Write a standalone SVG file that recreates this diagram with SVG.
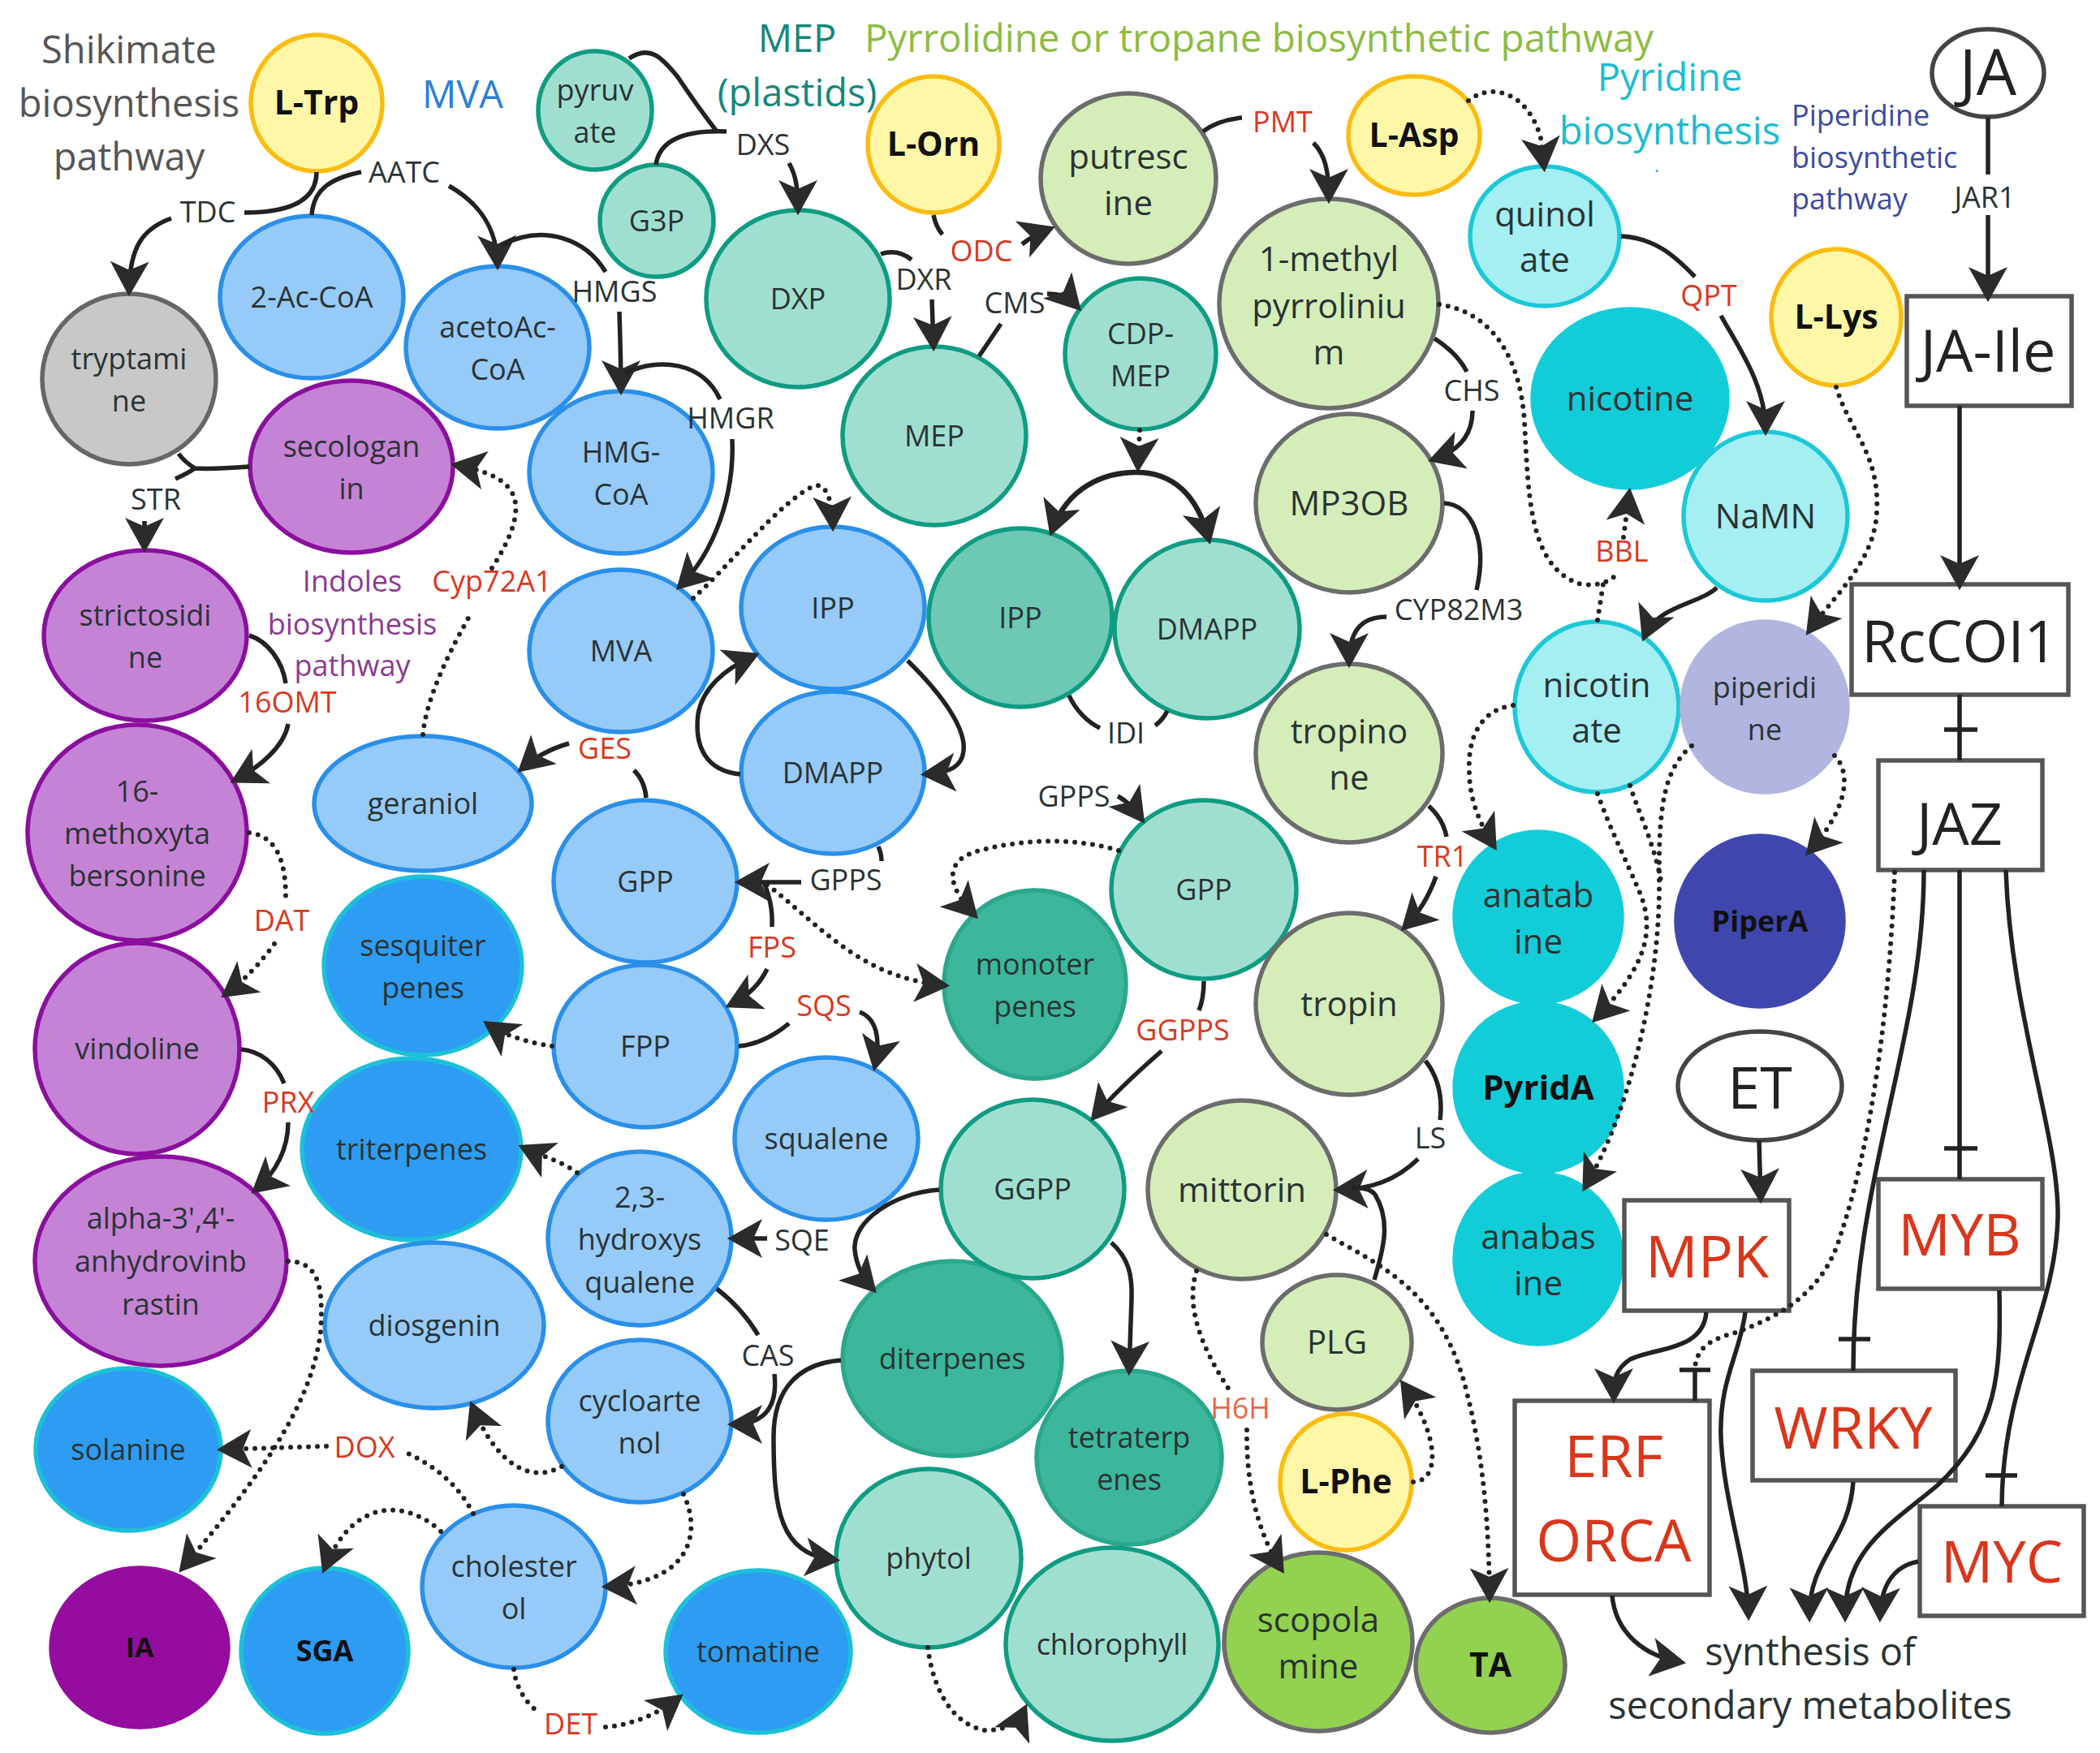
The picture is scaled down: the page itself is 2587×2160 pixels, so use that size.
<svg xmlns="http://www.w3.org/2000/svg" width="2587" height="2160" viewBox="0 0 2587 2160">
<style>
text{font-family:"Open Sans","DejaVu Sans",sans-serif;text-anchor:middle;fill:#2a3333;font-size:36px}
.L{font-size:42px}.B{font-weight:700;fill:#111;font-size:41px}
.e{font-size:36px}.r{fill:#d9381e}
.h{font-size:47px}.big{font-size:72px;fill:#222}.bigr{font-size:72px;fill:#d9361b}
ellipse,rect{stroke-width:5.5}
.blue{fill:#96caf8;stroke:#2a8fe8}.dblue{fill:#2e9cf3;stroke:#1cc0d8}
.pur{fill:#c583d6;stroke:#8a0f9e}.dpur{fill:#940d9e;stroke:#940d9e}
.gray{fill:#c8c8c8;stroke:#666}
.teal{fill:#a0dfd0;stroke:#0f9c82}.dteal{fill:#3cb79c;stroke:#2aa78d}.mteal{fill:#6dc9b3;stroke:#0f9c82}
.grn{fill:#d5edb9;stroke:#6c6c6c}.dgrn{fill:#93d150;stroke:#6c6c6c}
.cy{fill:#a5eef2;stroke:#1cc8d8}.dcy{fill:#12cdd8;stroke:#12cdd8}
.yel{fill:#fff7a8;stroke:#fbbc10}
.pip{fill:#b1b5df;stroke:#b1b5df}.dpip{fill:#3f47ae;stroke:#3f47ae}
.w{fill:#fff;stroke:#444}.box{fill:#fff;stroke:#555}
#connectors path{fill:none;stroke:#222;stroke-width:5.5}
#connectors path.a{marker-end:url(#arr)}
#connectors path.d{stroke-dasharray:0 11;stroke-linecap:round;stroke-width:6}
</style>
<defs>
<marker id="arr" markerUnits="userSpaceOnUse" markerWidth="44" markerHeight="48" viewBox="0 0 36 40" refX="30" refY="20" orient="auto"><path d="M36 20L0 0L9 20L0 40Z" fill="#2b2b2b"/></marker>
</defs>
<rect width="2587" height="2160" fill="#fff"/>

<g id="titles">
<text class="h" x="159" y="78" style="fill:#555">Shikimate</text>
<text class="h" x="159" y="144" style="fill:#555">biosynthesis</text>
<text class="h" x="159" y="210" style="fill:#555">pathway</text>
<text class="h" x="570" y="133" style="fill:#2b7fd6">MVA</text>
<text class="h" x="982" y="64" style="fill:#14877a">MEP</text>
<text class="h" x="982" y="131" style="fill:#14877a">(plastids)</text>
<text class="h" x="1551" y="64" style="fill:#8dbb45;font-size:47.5px">Pyrrolidine or tropane biosynthetic pathway</text>
<text class="h" x="2057" y="112" style="fill:#1cbcd2">Pyridine</text>
<text class="h" x="2057" y="178" style="fill:#1cbcd2">biosynthesis</text>
<text x="2041" y="212" style="fill:#1cbcd2;font-size:24px">.</text>
<text x="2207" y="155" style="fill:#3b4aa0;text-anchor:start">Piperidine</text>
<text x="2207" y="207" style="fill:#3b4aa0;text-anchor:start">biosynthetic</text>
<text x="2207" y="258" style="fill:#3b4aa0;text-anchor:start">pathway</text>
<text x="434" y="729" style="fill:#8b3a8f">Indoles</text>
<text x="434" y="782" style="fill:#8b3a8f">biosynthesis</text>
<text x="434" y="833" style="fill:#8b3a8f">pathway</text>
<text class="h" x="2230" y="2052">synthesis of</text>
<text class="h" x="2230" y="2118">secondary metabolites</text>
</g>

<g id="n-LTrp"><ellipse class="yel" cx="390" cy="127" rx="81" ry="84"/><text class="B" x="390" y="141">L-Trp</text></g>
<g id="n-2AcCoA"><ellipse class="blue" cx="384" cy="366" rx="113" ry="100"/><text x="384" y="379">2-Ac-CoA</text></g>
<g id="n-acetoAcCoA"><ellipse class="blue" cx="613" cy="428" rx="113" ry="100"/><text x="613" y="416">acetoAc-</text><text x="613" y="468">CoA</text></g>
<g id="n-tryptamine"><ellipse class="gray" cx="159" cy="467" rx="107" ry="105"/><text x="159" y="455">tryptami</text><text x="159" y="507">ne</text></g>
<g id="n-secologanin"><ellipse class="pur" cx="433" cy="575" rx="125" ry="106"/><text x="433" y="563">secologan</text><text x="433" y="615">in</text></g>
<g id="n-HMGCoA"><ellipse class="blue" cx="765" cy="582" rx="113" ry="100"/><text x="765" y="570">HMG-</text><text x="765" y="622">CoA</text></g>
<g id="n-pyruvate"><ellipse class="teal" cx="733" cy="136" rx="70" ry="73"/><text x="733" y="124">pyruv</text><text x="733" y="176">ate</text></g>
<g id="n-G3P"><ellipse class="teal" cx="809" cy="272" rx="70" ry="69"/><text x="809" y="285">G3P</text></g>
<g id="n-DXP"><ellipse class="teal" cx="983" cy="368" rx="113" ry="109"/><text x="983" y="381">DXP</text></g>
<g id="n-LOrn"><ellipse class="yel" cx="1150" cy="178" rx="81" ry="84"/><text class="B" x="1150" y="192">L-Orn</text></g>
<g id="n-MEP"><ellipse class="teal" cx="1151" cy="537" rx="113" ry="110"/><text x="1151" y="550">MEP</text></g>
<g id="n-strictosidine"><ellipse class="pur" cx="179" cy="783" rx="125" ry="105"/><text x="179" y="771">strictosidi</text><text x="179" y="823">ne</text></g>
<g id="n-MVA"><ellipse class="blue" cx="765" cy="802" rx="113" ry="100"/><text x="765" y="815">MVA</text></g>
<g id="n-IPP-b"><ellipse class="blue" cx="1026" cy="749" rx="113" ry="100"/><text x="1026" y="762">IPP</text></g>
<g id="n-DMAPP-b"><ellipse class="blue" cx="1026" cy="952" rx="113" ry="100"/><text x="1026" y="965">DMAPP</text></g>
<g id="n-geraniol"><ellipse class="blue" cx="521" cy="990" rx="134" ry="83"/><text x="521" y="1003">geraniol</text></g>
<g id="n-16methoxy"><ellipse class="pur" cx="169" cy="1026" rx="135" ry="133"/><text x="169" y="988">16-</text><text x="169" y="1040">methoxyta</text><text x="169" y="1092">bersonine</text></g>
<g id="n-vindoline"><ellipse class="pur" cx="169" cy="1292" rx="126" ry="130"/><text x="169" y="1305">vindoline</text></g>
<g id="n-alpha"><ellipse class="pur" cx="198" cy="1554" rx="155" ry="129"/><text x="198" y="1514">alpha-3',4'-</text><text x="198" y="1567">anhydrovinb</text><text x="198" y="1620">rastin</text></g>
<g id="n-sesquiterpenes"><ellipse class="dblue" cx="521" cy="1190" rx="122" ry="110"/><text x="521" y="1178">sesquiter</text><text x="521" y="1230">penes</text></g>
<g id="n-GPP-b"><ellipse class="blue" cx="795" cy="1086" rx="113" ry="100"/><text x="795" y="1099">GPP</text></g>
<g id="n-FPP"><ellipse class="blue" cx="795" cy="1289" rx="113" ry="100"/><text x="795" y="1302">FPP</text></g>
<g id="n-squalene"><ellipse class="blue" cx="1018" cy="1403" rx="113" ry="100"/><text x="1018" y="1416">squalene</text></g>
<g id="n-triterpenes"><ellipse class="dblue" cx="507" cy="1416" rx="135" ry="112"/><text x="507" y="1429">triterpenes</text></g>
<g id="n-hydroxysqualene"><ellipse class="blue" cx="788" cy="1526" rx="113" ry="107"/><text x="788" y="1488">2,3-</text><text x="788" y="1540">hydroxys</text><text x="788" y="1593">qualene</text></g>
<g id="n-diosgenin"><ellipse class="blue" cx="535" cy="1633" rx="135" ry="102"/><text x="535" y="1646">diosgenin</text></g>
<g id="n-cycloartenol"><ellipse class="blue" cx="788" cy="1751" rx="113" ry="100"/><text x="788" y="1739">cycloarte</text><text x="788" y="1791">nol</text></g>
<g id="n-solanine"><ellipse class="dblue" cx="158" cy="1786" rx="114" ry="100"/><text x="158" y="1799">solanine</text></g>
<g id="n-cholesterol"><ellipse class="blue" cx="633" cy="1955" rx="113" ry="100"/><text x="633" y="1943">cholester</text><text x="633" y="1995">ol</text></g>
<g id="n-IA"><ellipse class="dpur" cx="172" cy="2030" rx="109" ry="98"/><text class="B" x="172" y="2042" style="font-size:34px">IA</text></g>
<g id="n-SGA"><ellipse class="dblue" cx="400" cy="2034" rx="103" ry="102"/><text class="B" x="400" y="2047" style="font-size:36px">SGA</text></g>
<g id="n-tomatine"><ellipse class="dblue" cx="934" cy="2035" rx="114" ry="100"/><text x="934" y="2048">tomatine</text></g>
<g id="n-diterpenes"><ellipse class="dteal" cx="1173" cy="1674" rx="135" ry="120"/><text x="1173" y="1687">diterpenes</text></g>
<g id="n-phytol"><ellipse class="teal" cx="1144" cy="1920" rx="114" ry="110"/><text x="1144" y="1933">phytol</text></g>
<g id="n-GGPP"><ellipse class="teal" cx="1272" cy="1465" rx="113" ry="110"/><text x="1272" y="1478">GGPP</text></g>
<g id="n-monoterpenes"><ellipse class="dteal" cx="1275" cy="1213" rx="112" ry="116"/><text x="1275" y="1201">monoter</text><text x="1275" y="1253">penes</text></g>
<g id="n-putrescine"><ellipse class="grn" cx="1390" cy="220" rx="108" ry="105"/><text class="L" x="1390" y="208">putresc</text><text class="L" x="1390" y="265">ine</text></g>
<g id="n-CDPMEP"><ellipse class="teal" cx="1405" cy="436" rx="93" ry="93"/><text x="1405" y="424">CDP-</text><text x="1405" y="476">MEP</text></g>
<g id="n-methylpyrrolinium"><ellipse class="grn" cx="1637" cy="374" rx="135" ry="129"/><text class="L" x="1637" y="334">1-methyl</text><text class="L" x="1637" y="392">pyrroliniu</text><text class="L" x="1637" y="449">m</text></g>
<g id="n-LAsp"><ellipse class="yel" cx="1742" cy="167" rx="81" ry="73"/><text class="B" x="1742" y="181">L-Asp</text></g>
<g id="n-quinolate"><ellipse class="cy" cx="1903" cy="291" rx="92" ry="86"/><text class="L" x="1903" y="279">quinol</text><text class="L" x="1903" y="335">ate</text></g>
<g id="n-nicotine"><ellipse class="dcy" cx="2008" cy="491" rx="120" ry="110"/><text class="L" x="2008" y="506">nicotine</text></g>
<g id="n-MP3OB"><ellipse class="grn" cx="1662" cy="620" rx="115" ry="110"/><text class="L" x="1662" y="635">MP3OB</text></g>
<g id="n-NaMN"><ellipse class="cy" cx="2175" cy="636" rx="101" ry="104"/><text class="L" x="2175" y="651">NaMN</text></g>
<g id="n-LLys"><ellipse class="yel" cx="2262" cy="391" rx="80" ry="84"/><text class="B" x="2262" y="405">L-Lys</text></g>
<g id="n-IPP-t"><ellipse class="mteal" cx="1257" cy="761" rx="113" ry="110"/><text x="1257" y="774">IPP</text></g>
<g id="n-DMAPP-t"><ellipse class="teal" cx="1487" cy="775" rx="114" ry="110"/><text x="1487" y="788">DMAPP</text></g>
<g id="n-tropinone"><ellipse class="grn" cx="1662" cy="928" rx="115" ry="110"/><text class="L" x="1662" y="916">tropino</text><text class="L" x="1662" y="973">ne</text></g>
<g id="n-nicotinate"><ellipse class="cy" cx="1967" cy="871" rx="101" ry="105"/><text class="L" x="1967" y="859">nicotin</text><text class="L" x="1967" y="915">ate</text></g>
<g id="n-piperidine"><ellipse class="pip" cx="2174" cy="871" rx="102" ry="105"/><text x="2174" y="860">piperidi</text><text x="2174" y="912">ne</text></g>
<g id="n-GPP-t"><ellipse class="teal" cx="1483" cy="1096" rx="114" ry="110"/><text x="1483" y="1109">GPP</text></g>
<g id="n-anatabine"><ellipse class="dcy" cx="1895" cy="1130" rx="103" ry="105"/><text class="L" x="1895" y="1118">anatab</text><text class="L" x="1895" y="1175">ine</text></g>
<g id="n-PiperA"><ellipse class="dpip" cx="2168" cy="1135" rx="103" ry="105"/><text class="B" x="2168" y="1148" style="font-size:36px">PiperA</text></g>
<g id="n-tropin"><ellipse class="grn" cx="1662" cy="1237" rx="115" ry="112"/><text class="L" x="1662" y="1252">tropin</text></g>
<g id="n-PyridA"><ellipse class="dcy" cx="1895" cy="1340" rx="103" ry="104"/><text class="B" x="1895" y="1355" style="font-size:42px">PyridA</text></g>
<g id="n-mittorin"><ellipse class="grn" cx="1530" cy="1466" rx="116" ry="110"/><text class="L" x="1530" y="1481">mittorin</text></g>
<g id="n-anabasine"><ellipse class="dcy" cx="1895" cy="1551" rx="103" ry="105"/><text class="L" x="1895" y="1539">anabas</text><text class="L" x="1895" y="1596">ine</text></g>
<g id="n-PLG"><ellipse class="grn" cx="1647" cy="1654" rx="92" ry="83"/><text x="1647" y="1668" style="font-size:40px">PLG</text></g>
<g id="n-tetraterpenes"><ellipse class="dteal" cx="1391" cy="1796" rx="114" ry="107"/><text x="1391" y="1784">tetraterp</text><text x="1391" y="1836">enes</text></g>
<g id="n-LPhe"><ellipse class="yel" cx="1658" cy="1826" rx="81" ry="84"/><text class="B" x="1658" y="1840">L-Phe</text></g>
<g id="n-chlorophyll"><ellipse class="teal" cx="1370" cy="2026" rx="131" ry="119"/><text x="1370" y="2039">chlorophyll</text></g>
<g id="n-scopolamine"><ellipse class="dgrn" cx="1624" cy="2023" rx="116" ry="110"/><text class="L" x="1624" y="2011">scopola</text><text class="L" x="1624" y="2068">mine</text></g>
<g id="n-TA"><ellipse class="dgrn" cx="1836" cy="2052" rx="92" ry="83"/><text class="B" x="1836" y="2066">TA</text></g>
<g id="n-JA"><ellipse class="w" cx="2449" cy="90" rx="69" ry="54"/><text class="big" x="2449" y="117" style="font-size:78px">JA</text></g>
<g id="n-ET"><ellipse class="w" cx="2168" cy="1338" rx="101" ry="67"/><text class="big" x="2168" y="1366">ET</text></g>
<g id="n-JAIle"><rect class="box" x="2349" y="365" width="203" height="135"/><text class="big" x="2449" y="458">JA-Ile</text></g>
<g id="n-RcCOI1"><rect class="box" x="2281" y="720" width="267" height="136"/><text class="big" x="2414" y="816">RcCOI1</text></g>
<g id="n-JAZ"><rect class="box" x="2314" y="937" width="202" height="135"/><text class="big" x="2414" y="1041">JAZ</text></g>
<g id="n-MPK"><rect class="box" x="2001" y="1479" width="203" height="136"/><text class="bigr" x="2103" y="1574">MPK</text></g>
<g id="n-MYB"><rect class="box" x="2314" y="1453" width="202" height="135"/><text class="bigr" x="2414" y="1547">MYB</text></g>
<g id="n-ERFORCA"><rect class="box" x="1866" y="1726" width="240" height="239"/><text class="bigr" x="1988" y="1820">ERF</text><text class="bigr" x="1988" y="1924">ORCA</text></g>
<g id="n-WRKY"><rect class="box" x="2159" y="1689" width="250" height="135"/><text class="bigr" x="2283" y="1785">WRKY</text></g>
<g id="n-MYC"><rect class="box" x="2365" y="1856" width="202" height="135"/><text class="bigr" x="2466" y="1950">MYC</text></g>

<g id="connectors">
<path d="M390 212C390 245 360 262 301 262"/>
<path class="a" d="M211 269C175 282 160 305 159 358"/>
<path d="M384 265C386 235 405 220 445 212"/>
<path class="a" d="M553 229C590 250 612 280 613 326"/>
<path d="M746 335C722 295 670 275 618 302"/>
<path class="a" d="M763 384C764 420 765 450 765 480"/>
<path d="M887 492C865 445 810 440 770 460"/>
<path class="a" d="M902 541C905 610 880 680 838 722"/>
<path d="M775 72C800 55 815 70 835 95C855 125 870 145 883 162"/>
<path d="M808 203C812 175 840 160 895 162"/>
<path class="a" d="M972 201C980 215 983 230 983 258"/>
<path d="M1085 313C1100 308 1113 312 1123 320"/>
<path class="a" d="M1148 369L1150 426"/>
<path d="M1206 439L1233 399"/>
<path class="a" d="M1290 362C1305 362 1315 365 1327 378"/>
<path d="M1150 265C1152 275 1155 282 1161 289"/>
<path class="a" d="M1259 301C1270 292 1280 287 1293 282"/>
<path d="M1482 162C1495 152 1510 147 1530 145"/>
<path class="a" d="M1618 176C1632 190 1637 210 1637 244"/>
<path class="a d" d="M1809 124C1838 100 1883 115 1898 170L1902 205"/>
<path d="M1997 291C2038 293 2063 315 2088 341"/>
<path class="a" d="M2120 389C2143 430 2175 475 2175 530"/>
<path d="M1767 417C1784 428 1799 442 1807 458"/>
<path class="a" d="M1814 506C1814 535 1799 555 1766 566"/>
<path d="M1779 620C1813 622 1833 665 1819 727"/>
<path class="a" d="M1708 760C1679 760 1662 775 1662 816"/>
<path class="d" d="M1773 375C1838 385 1873 440 1878 520C1883 610 1883 700 1948 720C1968 722 1983 718 1993 706"/>
<path class="d" d="M1968 764L1976 713"/>
<path class="a d" d="M2000 662L2007 608"/>
<path class="a" d="M2115 724C2093 745 2043 745 2026 784"/>
<path class="a d" d="M2262 477C2278 530 2316 560 2312 630C2310 690 2263 730 2229 777"/>
<path d="M2449 145V215"/>
<path class="a" d="M2449 265V365"/>
<path class="a" d="M2414 500V720"/>
<path d="M2414 856V937M2395 899H2436"/>
<path class="a d" d="M1404 530L1402 575"/>
<path class="a" style="stroke-width:6.5" d="M1400 582C1360 582 1315 600 1296 654"/>
<path class="a" style="stroke-width:6.5" d="M1400 582C1445 582 1475 610 1489 664"/>
<path d="M1317 857C1325 875 1340 890 1355 897"/>
<path d="M1438 876C1434 884 1430 889 1423 894"/>
<path class="a" d="M1377 981C1390 988 1398 998 1406 1009"/>
<path d="M1760 993C1771 1003 1779 1015 1782 1031"/>
<path class="a" d="M1769 1080C1760 1105 1748 1125 1731 1142"/>
<path d="M1756 1307C1774 1330 1777 1355 1774 1380"/>
<path class="a" d="M1747 1428C1719 1455 1689 1465 1649 1466"/>
<path d="M1693 1577C1704 1540 1714 1505 1694 1472C1689 1465 1679 1463 1665 1464"/>
<path class="a d" d="M1741 1826C1774 1825 1774 1770 1729 1706"/>
<path class="a d" d="M1634 1521C1700 1560 1778 1590 1808 1720C1828 1800 1834 1880 1835 1968"/>
<path class="d" d="M1474 1566C1460 1610 1480 1660 1514 1712"/>
<path class="a d" d="M1536 1762C1535 1830 1550 1890 1578 1933"/>
<path d="M1483 1209C1483 1222 1481 1235 1477 1245"/>
<path class="a" d="M1431 1295C1400 1322 1370 1350 1348 1376"/>
<path class="a" d="M1369 1531C1390 1550 1395 1570 1394 1600L1391 1688"/>
<path class="a" d="M1157 1466C1100 1470 1050 1505 1053 1540C1055 1560 1063 1575 1075 1588"/>
<path class="a" d="M1036 1676C985 1680 953 1710 953 1770C953 1860 960 1915 1028 1922"/>
<path class="a d" d="M1143 2030C1150 2085 1175 2125 1213 2132C1238 2132 1253 2125 1262 2106"/>
<path d="M883 1588C905 1605 922 1625 934 1645"/>
<path class="a" d="M954 1693C958 1730 945 1755 903 1755"/>
<path class="a" d="M945 1526H903"/>
<path d="M910 1289C935 1287 955 1275 972 1261"/>
<path class="a" d="M1059 1247C1080 1255 1085 1280 1078 1313"/>
<path d="M941 1087C948 1105 952 1120 951 1142"/>
<path class="a" d="M945 1194C935 1215 920 1228 900 1238"/>
<path class="a" d="M987 1087H912"/>
<path d="M1082 1043C1085 1050 1086 1055 1086 1061"/>
<path class="a d" d="M945 1090C1010 1140 1060 1205 1163 1214"/>
<path class="a d" d="M680 1289C655 1285 625 1278 601 1262"/>
<path class="a d" d="M711 1445C690 1430 668 1425 645 1414"/>
<path class="a d" d="M692 1807C650 1830 610 1800 582 1733"/>
<path class="a d" d="M842 1841C865 1890 850 1950 748 1955"/>
<path class="d" d="M583 1865C565 1830 535 1805 498 1789"/>
<path class="a d" d="M402 1782L274 1786"/>
<path class="a d" d="M543 1887C510 1855 440 1835 400 1932"/>
<path class="d" d="M633 2057C635 2075 645 2095 659 2106"/>
<path class="a d" d="M746 2128C780 2125 810 2112 836 2092"/>
<path class="a d" d="M355 1554C395 1555 398 1590 395 1640C385 1730 320 1820 225 1932"/>
<path class="d" d="M307 1026C340 1030 352 1060 352 1105"/>
<path class="a d" d="M338 1163C322 1185 302 1207 278 1225"/>
<path d="M297 1293C320 1295 340 1310 350 1335"/>
<path class="a" d="M355 1383C355 1415 340 1445 315 1466"/>
<path class="d" d="M521 905C525 860 555 800 578 760"/>
<path class="a d" d="M606 700C625 670 640 640 634 615C628 592 600 580 562 573"/>
<path class="a d" d="M854 737C900 695 960 620 1000 600C1015 592 1025 610 1026 648"/>
<path class="a" d="M912 954C870 950 855 920 860 880C865 850 890 825 929 808"/>
<path class="a" d="M1118 814C1165 860 1190 900 1187 925C1185 945 1170 952 1141 954"/>
<path d="M796 983C795 970 790 958 781 949"/>
<path class="a" d="M701 916C680 922 660 932 643 947"/>
<path d="M307 575C280 577 255 578 240 577C232 572 225 566 220 559M240 577C233 582 225 586 216 590"/>
<path class="a" d="M178 642V674"/>
<path d="M307 783C330 790 348 815 352 842"/>
<path class="a" d="M355 892C350 920 320 945 290 961"/>
<path class="a d" d="M1378 1048C1320 1030 1250 1035 1200 1050C1165 1062 1165 1090 1200 1127"/>
<path class="a d" d="M1864 869C1823 875 1808 910 1810 950C1810 985 1823 1015 1840 1042"/>
<path class="a d" d="M1968 978C1983 1020 2003 1060 2018 1095C2043 1150 2023 1195 1966 1255"/>
<path class="d" d="M2008 968C2018 1000 2038 1040 2046 1085"/>
<path class="a d" d="M2084 919C2053 945 2043 985 2044 1080C2046 1210 2008 1370 1953 1462"/>
<path class="a d" d="M2260 931C2283 955 2273 1000 2229 1049"/>
<path class="d" d="M2334 1075C2328 1230 2308 1400 2268 1520C2248 1590 2198 1620 2138 1642C2108 1650 2090 1660 2088 1686"/>
<path d="M2088 1726V1688M2069 1688H2107"/>
<path d="M2370 1072C2370 1280 2283 1450 2283 1689M2265 1650H2304"/>
<path d="M2414 1072V1453M2395 1415H2436"/>
<path d="M2471 1072C2477 1250 2537 1400 2535 1500C2532 1620 2467 1700 2466 1856M2446 1818H2485"/>
<path class="a" d="M2167 1405L2169 1476"/>
<path class="a" d="M2102 1617C2098 1665 2038 1660 2008 1675C1990 1687 1988 1700 1988 1722"/>
<path class="a" d="M2150 1617C2143 1670 2118 1700 2120 1770C2123 1850 2153 1930 2154 1990"/>
<path class="a" d="M2283 1826C2278 1900 2228 1920 2229 1992"/>
<path class="a" d="M2463 1590C2465 1690 2462 1760 2387 1830C2327 1880 2272 1910 2273 1992"/>
<path class="a" d="M2363 1924C2332 1930 2317 1955 2316 1992"/>
<path class="a" d="M1986 1966C1990 2010 2023 2040 2070 2048"/>
</g>

<g id="labels">
<text class="e" x="256" y="274">TDC</text>
<text class="e" x="498" y="225">AATC</text>
<text class="e" x="940" y="191">DXS</text>
<text class="e" x="757" y="372">HMGS</text>
<text class="e" x="900" y="528">HMGR</text>
<text class="e" x="1138" y="357">DXR</text>
<text class="e" x="1250" y="386">CMS</text>
<text class="e r" x="1209" y="322">ODC</text>
<text class="e" x="192" y="628">STR</text>
<text class="e r" x="606" y="729">Cyp72A1</text>
<text class="e r" x="354" y="878">16OMT</text>
<text class="e r" x="745" y="935">GES</text>
<text class="e" x="1042" y="1097">GPPS</text>
<text class="e r" x="951" y="1180">FPS</text>
<text class="e r" x="1015" y="1252">SQS</text>
<text class="e r" x="347" y="1147">DAT</text>
<text class="e r" x="355" y="1371">PRX</text>
<text class="e" x="988" y="1541">SQE</text>
<text class="e" x="946" y="1683">CAS</text>
<text class="e r" x="449" y="1796">DOX</text>
<text class="e r" x="703" y="2137">DET</text>
<text class="e r" x="1580" y="163">PMT</text>
<text class="e" x="1813" y="494">CHS</text>
<text class="e r" x="2105" y="377">QPT</text>
<text class="e" x="2445" y="256">JAR1</text>
<text class="e r" x="1998" y="692">BBL</text>
<text class="e" x="1797" y="764">CYP82M3</text>
<text class="e" x="1387" y="916">IDI</text>
<text class="e" x="1323" y="994">GPPS</text>
<text class="e r" x="1777" y="1068">TR1</text>
<text class="e r" x="1457" y="1282">GGPPS</text>
<text class="e" x="1762" y="1415">LS</text>
<text class="e r" x="1528" y="1748" style="fill:#e8674a">H6H</text>
</g>
</svg>
